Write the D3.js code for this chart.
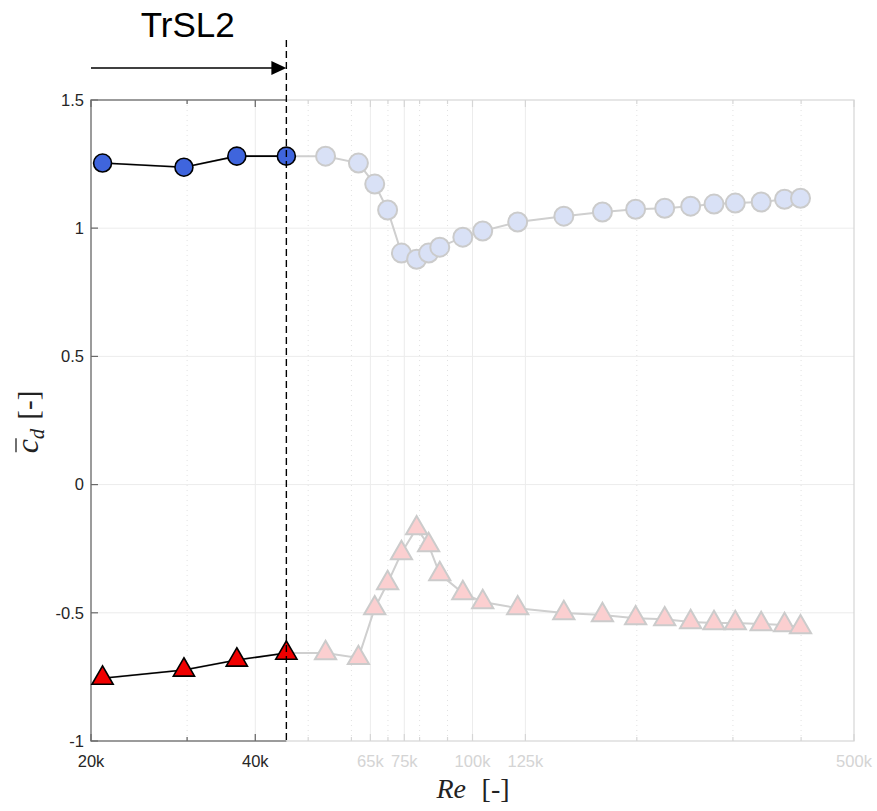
<!DOCTYPE html>
<html>
<head>
<meta charset="utf-8">
<script src="https://cdn.jsdelivr.net/npm/d3@7"></script>
<style>
  html, body { margin: 0; padding: 0; background: #fff; }
  svg { display: block; }
</style>
</head>
<body>
<div id="chart"></div>
<script>
// ---------- data ----------
const reValues = [21000, 29600, 37000, 45600, 53800, 61800, 66200, 69900, 74100, 79000, 83100, 87100, 96000, 104400, 121000, 147000, 173000, 199000, 225000, 251000, 277000, 303000, 338000, 373000, 399000];
const cdCircle = [1.254, 1.238, 1.281, 1.281, 1.281, 1.254, 1.172, 1.071, 0.903, 0.879, 0.903, 0.926, 0.965, 0.989, 1.024, 1.047, 1.063, 1.074, 1.078, 1.086, 1.094, 1.098, 1.102, 1.113, 1.117];
const cdTriangle = [-0.755, -0.723, -0.684, -0.657, -0.657, -0.676, -0.482, -0.384, -0.267, -0.170, -0.236, -0.349, -0.423, -0.458, -0.482, -0.501, -0.509, -0.521, -0.525, -0.536, -0.540, -0.540, -0.544, -0.548, -0.556];
const activeCount = 4;           // points inside the TrSL2 regime
const regimeBoundary = 45600;    // dashed line position (Re)
const regimeLabel = "TrSL2";
const xMajorTicks = [20000, 40000, 65000, 75000, 100000, 125000, 500000];
const xMajorLabels = ["20k", "40k", "65k", "75k", "100k", "125k", "500k"];
const xDarkTicks = [20000, 40000];
const xMinorTicks = [30000, 50000, 60000, 70000, 80000, 90000, 200000, 300000, 400000];
const yTicks = [-1, -0.5, 0, 0.5, 1, 1.5];
const yTickLabels = ["-1", "-0.5", "0", "0.5", "1", "1.5"];

// ---------- layout ----------
const W = 877, H = 811;
const m = { left: 91, top: 100, right: 23, bottom: 70 };
const iw = W - m.left - m.right, ih = H - m.top - m.bottom;

const x = d3.scaleLog().domain([20000, 500000]).range([0, iw]);
const y = d3.scaleLinear().domain([-1, 1.5]).range([ih, 0]);

const svg = d3.select("#chart").append("svg").attr("width", W).attr("height", H)
  .style("font-family", "'Liberation Sans', Arial, Helvetica, sans-serif");
const g = svg.append("g").attr("transform", `translate(${m.left},${m.top})`);

const gridCol = "#ececec";
const lightAxis = "#d6d6d6";
const darkAxis = "#6a6a6a";
const xb = x(regimeBoundary);

// grid
g.append("g").selectAll("line").data(yTicks.slice(1, -1)).join("line")
  .attr("x1", 0).attr("x2", iw).attr("y1", d => y(d)).attr("y2", d => y(d))
  .attr("stroke", gridCol).attr("stroke-width", 1);
g.append("g").selectAll("line").data(xMajorTicks.slice(1, -1)).join("line")
  .attr("x1", d => x(d)).attr("x2", d => x(d)).attr("y1", 0).attr("y2", ih)
  .attr("stroke", gridCol).attr("stroke-width", 1);
g.append("g").selectAll("line").data(xMinorTicks).join("line")
  .attr("x1", d => x(d)).attr("x2", d => x(d)).attr("y1", 0).attr("y2", ih)
  .attr("stroke", "#e2e2e2").attr("stroke-width", 1).attr("stroke-dasharray", "1,4");

// frames
function frame(sel, col, clipId) {
  const f = sel.append("g").attr("fill", "none").attr("stroke", col).attr("stroke-width", 1.2);
  if (clipId) f.attr("clip-path", `url(#${clipId})`);
  f.append("rect").attr("x", 0).attr("y", 0).attr("width", iw).attr("height", ih);
  xMajorTicks.forEach(t => {
    f.append("line").attr("x1", x(t)).attr("x2", x(t)).attr("y1", ih).attr("y2", ih - 7);
    f.append("line").attr("x1", x(t)).attr("x2", x(t)).attr("y1", 0).attr("y2", 7);
  });
  xMinorTicks.forEach(t => {
    f.append("line").attr("x1", x(t)).attr("x2", x(t)).attr("y1", ih).attr("y2", ih - 4);
    f.append("line").attr("x1", x(t)).attr("x2", x(t)).attr("y1", 0).attr("y2", 4);
  });
  return f;
}
frame(g, lightAxis, null);
svg.append("defs").append("clipPath").attr("id", "leftClip")
  .append("rect").attr("x", -5).attr("y", -5).attr("width", xb + 5).attr("height", ih + 10);
const df = frame(g, darkAxis, "leftClip");
yTicks.forEach(t => {
  df.append("line").attr("x1", 0).attr("x2", 7).attr("y1", y(t)).attr("y2", y(t));
});

// y tick labels
g.append("g").selectAll("text").data(yTicks).join("text")
  .attr("x", -7).attr("y", d => y(d)).attr("dy", "0.35em")
  .attr("text-anchor", "end").attr("font-size", 16.5).attr("fill", "#262626")
  .text((d, i) => yTickLabels[i]);

// x tick labels
g.append("g").selectAll("text").data(xMajorTicks).join("text")
  .attr("x", d => x(d)).attr("y", ih + 26)
  .attr("text-anchor", "middle").attr("font-size", 16.5)
  .attr("fill", d => xDarkTicks.includes(d) ? "#262626" : "#d4d4d4")
  .text((d, i) => xMajorLabels[i]);

// ---------- series ----------
const pts = reValues.map((r, i) => ({ r, c: cdCircle[i], t: cdTriangle[i], i }));
const lineC = d3.line().x(d => x(d.r)).y(d => y(d.c));
const lineT = d3.line().x(d => x(d.r)).y(d => y(d.t));
const tri = d3.symbol().type(d3.symbolTriangle).size(195);

// light (full) series
g.append("path").datum(pts).attr("d", lineC).attr("fill", "none").attr("stroke", "#cfcfcf").attr("stroke-width", 2);
g.append("path").datum(pts).attr("d", lineT).attr("fill", "none").attr("stroke", "#cfcfcf").attr("stroke-width", 2);
g.append("g").selectAll("circle").data(pts.slice(activeCount)).join("circle")
  .attr("cx", d => x(d.r)).attr("cy", d => y(d.c)).attr("r", 9.5)
  .attr("fill", "#d9e1f6").attr("stroke", "#cbcbcb").attr("stroke-width", 2);
g.append("g").selectAll("path").data(pts.slice(activeCount)).join("path")
  .attr("transform", d => `translate(${x(d.r)},${y(d.t)})`).attr("d", tri)
  .attr("fill", "#fbcfd0").attr("stroke", "#cbcbcb").attr("stroke-width", 2);

// dark (active) series
const act = pts.slice(0, activeCount);
g.append("path").datum(act).attr("d", lineC).attr("fill", "none").attr("stroke", "#000").attr("stroke-width", 1.6);
g.append("path").datum(act).attr("d", lineT).attr("fill", "none").attr("stroke", "#000").attr("stroke-width", 1.6);
g.append("g").selectAll("circle").data(act).join("circle")
  .attr("cx", d => x(d.r)).attr("cy", d => y(d.c)).attr("r", 9)
  .attr("fill", "#3f65dd").attr("stroke", "#000").attr("stroke-width", 1.6);
g.append("g").selectAll("path").data(act).join("path")
  .attr("transform", d => `translate(${x(d.r)},${y(d.t)})`).attr("d", tri)
  .attr("fill", "#f00000").attr("stroke", "#000").attr("stroke-width", 1.6);

// ---------- regime boundary & arrow ----------
g.append("line").attr("x1", xb).attr("x2", xb).attr("y1", 40 - m.top).attr("y2", ih)
  .attr("stroke", "#000").attr("stroke-width", 1.4).attr("stroke-dasharray", "7,4");
const ay = 68 - m.top;
g.append("line").attr("x1", 0).attr("x2", xb - 14).attr("y1", ay).attr("y2", ay)
  .attr("stroke", "#000").attr("stroke-width", 1.3);
g.append("path").attr("d", `M${xb},${ay} L${xb - 15},${ay - 7} L${xb - 15},${ay + 7} Z`).attr("fill", "#000");
g.append("text").attr("x", xb / 2 - 1).attr("y", 37 - m.top).attr("text-anchor", "middle")
  .attr("font-size", 35).attr("fill", "#000").text(regimeLabel);

// ---------- axis labels ----------
const serif = "'Liberation Serif', 'DejaVu Serif', serif";
const xl = svg.append("text").attr("x", 473).attr("y", 798).attr("text-anchor", "middle")
  .attr("font-family", serif).attr("font-size", 28).attr("fill", "#222");
xl.append("tspan").attr("font-style", "italic").text("Re");
xl.append("tspan").text("\u2009[-]").attr("dx", 10);

const yl = svg.append("g").attr("transform", "translate(38,422) rotate(-90)");
const ylt = yl.append("text").attr("text-anchor", "middle")
  .attr("font-family", serif).attr("font-size", 32).attr("fill", "#222");
ylt.append("tspan").attr("font-style", "italic").text("c");
ylt.append("tspan").attr("font-style", "italic").attr("font-size", 21).attr("dy", 6).text("d");
ylt.append("tspan").attr("dy", -6).attr("dx", 9).attr("font-size", 29).text("[-]");
const bb = ylt.node().getBBox();
const cStart = bb.x;
yl.append("line").attr("x1", cStart + 1).attr("x2", cStart + 15).attr("y1", -22).attr("y2", -22)
  .attr("stroke", "#222").attr("stroke-width", 1.3);
</script>
</body>
</html>
